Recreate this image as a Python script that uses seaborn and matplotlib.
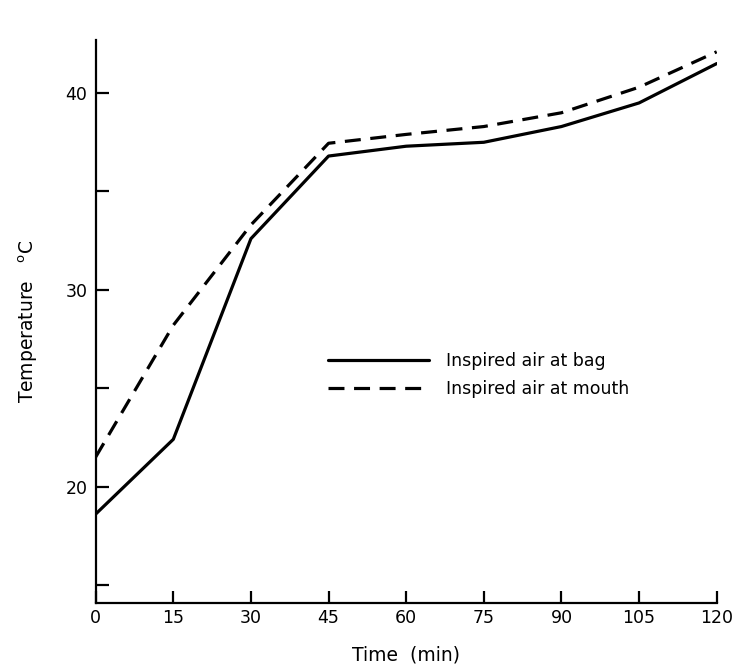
import numpy as np
import pandas as pd
import matplotlib
matplotlib.use("Agg")
import matplotlib.pyplot as plt
import seaborn as sns

time_min = [0, 15, 30, 45, 60, 75, 90, 105, 120]
temp_bag = [18.6, 22.4, 32.6, 36.8, 37.3, 37.5, 38.3, 39.5, 41.5]
temp_mouth = [21.5, 28.2, 33.3, 37.45, 37.9, 38.3, 39.0, 40.3, 42.1]
series_names = ["Inspired air at bag", "Inspired air at mouth"]
x_ticks = [0, 15, 30, 45, 60, 75, 90, 105, 120]
y_major = [20, 30, 40]
y_minor = [15, 25, 35]

df = pd.DataFrame({
    "Time": time_min * 2,
    "Temp": temp_bag + temp_mouth,
    "Series": [series_names[0]] * len(time_min) + [series_names[1]] * len(time_min),
})

sns.set_theme(style="ticks")
plt.rcParams['font.family'] = ['DejaVu Sans']
plt.rcParams['xtick.direction'] = 'in'
plt.rcParams['ytick.direction'] = 'in'
plt.rcParams['text.color'] = 'black'
plt.rcParams['axes.labelcolor'] = 'black'

fig = plt.figure(figsize=(7.4, 6.72), dpi=100)
ax = fig.add_axes([0.1293, 0.1027, 0.9685 - 0.1293, 0.9405 - 0.1027])

sns.lineplot(data=df, x="Time", y="Temp", style="Series", color="black",
             dashes={series_names[0]: "", series_names[1]: (5, 3)},
             linewidth=2.3, ax=ax, legend=True)

ax.set_xlim(0, 120)
ax.set_ylim(14.08, 42.7)
ax.set_xticks(x_ticks)
ax.set_xticklabels([str(t) for t in x_ticks])
ax.set_yticks(y_major)
ax.set_yticks(y_minor, minor=True)
ax.xaxis.set_tick_params(which="both", direction="in", length=9, width=1.6,
                         labelsize=12.5, colors="black", pad=4)
ax.yaxis.set_tick_params(which="both", direction="in", length=9, width=1.6,
                         labelsize=12.5, colors="black", pad=6)
for s in ["top", "right"]:
    ax.spines[s].set_visible(False)
for s in ["left", "bottom"]:
    ax.spines[s].set_linewidth(1.6)
    ax.spines[s].set_color("black")

ax.set_xlabel("Time  (min)", fontsize=13.5, labelpad=14, color="black")
ax.set_ylabel("Temperature   $^{\\mathregular{o}}$C", fontsize=13.5, labelpad=18, color="black")

handles, labels = ax.get_legend_handles_labels()
leg = ax.legend(handles, labels, loc="center left", bbox_to_anchor=(0.36, 0.405),
                frameon=False, fontsize=12.5, handlelength=5.8, handletextpad=1.0,
                labelspacing=0.6, borderpad=0)
for t in leg.get_texts():
    t.set_color("black")
for h in leg.get_lines():
    h.set_linewidth(2.3)

fig.savefig("out.png", dpi=100, facecolor="white")
